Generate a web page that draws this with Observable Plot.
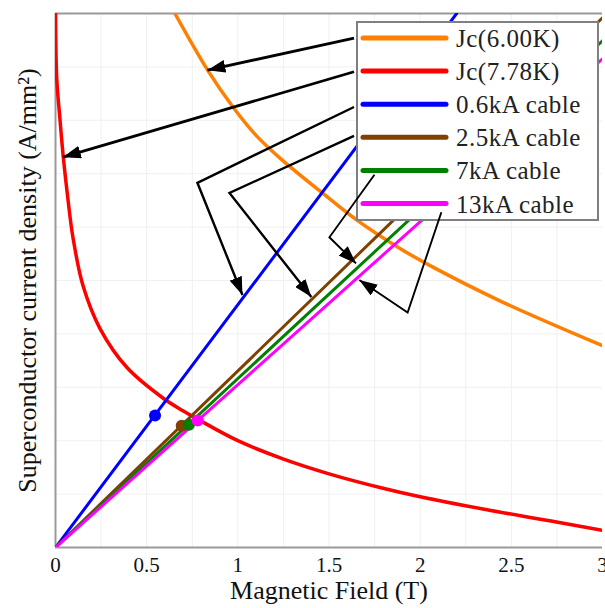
<!DOCTYPE html>
<html>
<head>
<meta charset="utf-8">
<script src="https://cdn.jsdelivr.net/npm/d3@7"></script>
<script src="https://cdn.jsdelivr.net/npm/@observablehq/plot@0.6"></script>
<style>
  body { margin: 0; background: #fff; }
  #chart { width: 605px; height: 608px; }
</style>
</head>
<body>
<div id="chart"></div>
<script>
// ---------- data ----------
const seriesNames  = ["Jc(6.00K)", "Jc(7.78K)", "0.6kA cable", "2.5kA cable", "7kA cable", "13kA cable"];
const seriesColors = ["#ff8000", "#ff0000", "#0000ff", "#804000", "#008000", "#ff00ff"];

// Jc(6.00K) curve
const jc600X = [0.655, 0.836, 0.973, 1.105, 1.242, 1.467, 1.653, 1.889, 2.070, 2.437, 3.0];
const jc600Y = [10.0, 8.93, 8.25, 7.70, 7.26, 6.63, 6.13, 5.60, 5.25, 4.62, 3.78];

// Jc(7.78K) curve
const jc778X = [0, 0.0066, 0.025, 0.043, 0.069, 0.096, 0.151, 0.244, 0.392, 0.589, 0.699, 0.781, 1.0, 1.247, 1.5, 1.796, 2.0, 2.344, 2.71, 3.0];
const jc778Y = [10.3, 8.80, 8.00, 7.30, 6.50, 5.80, 4.90, 4.10, 3.37, 2.80, 2.56, 2.40, 2.00, 1.66, 1.38, 1.11, 0.95, 0.72, 0.50, 0.32];

// cable load lines (start and end)
const cableNames = ["0.6kA cable", "2.5kA cable", "7kA cable", "13kA cable"];
const cableX = [[0, 2.2], [0, 3.0], [0, 3.0], [0, 3.0]];
const cableY = [[0, 10.0], [0, 9.92], [0, 9.49], [0, 9.15]];

// operating points
const opX = [0.546, 0.692, 0.732, 0.780];
const opY = [2.47, 2.28, 2.30, 2.38];

// axes
const xTicks = [0, 0.5, 1, 1.5, 2, 2.5, 3];
const xTickLabels = ["0", "0.5", "1", "1.5", "2", "2.5", "3"];
const xGrid = [0.25, 0.5, 0.75, 1, 1.25, 1.5, 1.75, 2, 2.25, 2.5, 2.75];
const yGrid = [1, 2, 3, 4, 5, 6, 7, 8, 9];
const xDomain = [0, 3];
const yDomain = [0, 10];
const xTitle = "Magnetic Field (T)";
const yTitle = "Superconductor current density (A/mm²)";

// annotation arrows (from legend to curves), in data units
const arrowX = [[1.64, 0.836], [1.64, 0.043], [1.64, 0.781, 1.028], [1.64, 0.957, 1.406], [1.752, 1.505, 1.651], [2.119, 1.934, 1.669]];
const arrowY = [[9.53, 8.93], [8.90, 7.30], [8.24, 6.82, 4.72], [7.70, 6.63, 4.68], [6.97, 5.80, 5.31], [6.27, 4.39, 5.00]];
const arrowWidth = [2.8, 2.8, 2.4, 2.4, 1.9, 1.9];

// ---------- build tables ----------
const curveRows = [];
jc600X.forEach((x, i) => curveRows.push({ s: seriesNames[0], x, y: jc600Y[i] }));
jc778X.forEach((x, i) => curveRows.push({ s: seriesNames[1], x, y: jc778Y[i] }));

const cableRows = [];
cableNames.forEach((s, k) => cableX[k].forEach((x, i) => cableRows.push({ s, x, y: cableY[k][i] })));

const dotRows = cableNames.map((s, k) => ({ s, x: opX[k], y: opY[k] }));

const serif = "'Liberation Serif', 'Times New Roman', Times, serif";

const plot = Plot.plot({
  width: 605,
  height: 608,
  marginLeft: 55,
  marginRight: 3,
  marginTop: 13,
  marginBottom: 61,
  x: { domain: xDomain },
  y: { domain: yDomain, axis: null },
  color: { domain: seriesNames, range: seriesColors },
  style: { fontFamily: serif, fontSize: "21px", color: "#111", background: "white", overflow: "visible" },
  marks: [
    Plot.ruleX(xGrid, { stroke: "#f0f0f0", strokeWidth: 1 }),
    Plot.ruleY(yGrid, { stroke: "#f0f0f0", strokeWidth: 1 }),
    Plot.ruleY([yDomain[1]], { stroke: "#999", strokeWidth: 2 }),
    Plot.ruleY([yDomain[0]], { stroke: "#999", strokeWidth: 2 }),
    Plot.ruleX([xDomain[0]], { stroke: "#999", strokeWidth: 2 }),
    Plot.axisX({ ticks: xTicks, tickFormat: d => xTickLabels[xTicks.indexOf(d)], tickSize: 0, tickPadding: 10, label: null, fontSize: 21, fill: "#111" }),
    Plot.line(curveRows, { x: "x", y: "y", z: "s", stroke: "s", strokeWidth: 3.5, curve: "catmull-rom", clip: true }),
    Plot.line(cableRows, { x: "x", y: "y", z: "s", stroke: "s", strokeWidth: 3, clip: true }),
    Plot.dot(dotRows, { x: "x", y: "y", fill: "s", r: 6 }),
    Plot.text([xTitle], { text: d => d, frameAnchor: "bottom", dy: 51, fontSize: 26, fill: "#111" }),
    Plot.text([yTitle], { text: d => d, frameAnchor: "left", textAnchor: "middle", dx: -28, rotate: -90, fontSize: 26, fill: "#111" })
  ]
});

// ---------- legend (drawn inside the svg) ----------
const svg = d3.select(plot);
const lg = svg.append("g").attr("class", "legend");
lg.append("rect")
  .attr("x", 357).attr("y", 22).attr("width", 241).attr("height", 198)
  .attr("fill", "white").attr("stroke", "#7f7f7f").attr("stroke-width", 2);
seriesNames.forEach((name, i) => {
  const cy = 38 + i * 33.1;
  lg.append("line")
    .attr("x1", 363).attr("x2", 446).attr("y1", cy).attr("y2", cy)
    .attr("stroke", seriesColors[i]).attr("stroke-width", 5).attr("stroke-linecap", "round");
  lg.append("text")
    .attr("x", 456).attr("y", cy + 9)
    .attr("text-anchor", "start")
    .attr("font-family", serif).attr("font-size", 25).attr("fill", "#222")
    .attr("letter-spacing", "0.5px")
    .text(name);
});

// ---------- annotation arrows (through Plot's scales) ----------
const sx = plot.scale("x"), sy = plot.scale("y");
const defs = svg.append("defs");
defs.append("marker")
  .attr("id", "ah").attr("viewBox", "0 0 10 10").attr("refX", 10).attr("refY", 5)
  .attr("preserveAspectRatio", "none")
  .attr("markerUnits", "userSpaceOnUse").attr("markerWidth", 18).attr("markerHeight", 13)
  .attr("orient", "auto")
  .append("path").attr("d", "M0,0L10,5L0,10Z").attr("fill", "black");
const ag = svg.append("g").attr("class", "arrows");
arrowX.forEach((xs, k) => {
  const pts = xs.map((x, i) => [sx.apply(x), sy.apply(arrowY[k][i])]);
  ag.append("path")
    .attr("d", d3.line()(pts))
    .attr("fill", "none").attr("stroke", "black")
    .attr("stroke-width", arrowWidth[k])
    .attr("stroke-linejoin", "miter")
    .attr("marker-end", "url(#ah)");
});

document.getElementById("chart").appendChild(plot);
</script>
</body>
</html>
